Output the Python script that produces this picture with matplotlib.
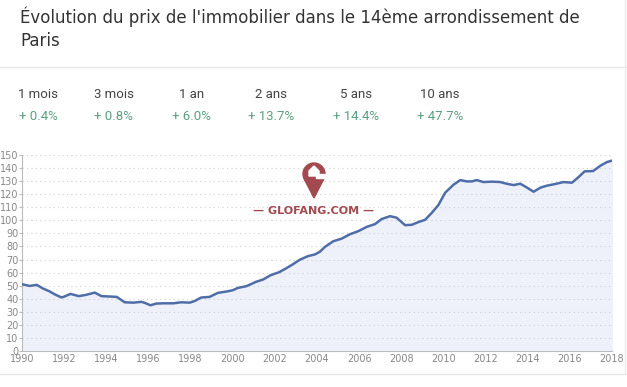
import numpy as np
import matplotlib.pyplot as plt
from matplotlib.patches import Circle, Polygon, Rectangle
from matplotlib.lines import Line2D

# price index (decimal year, index)
dates = [1990.0, 1990.36, 1990.7, 1991.0, 1991.3, 1991.55, 1991.87, 1992.0,
         1992.3, 1992.7, 1993.05, 1993.45, 1993.77, 1994.16, 1994.5, 1994.87,
         1995.27, 1995.66, 1995.8, 1996.1, 1996.37, 1996.7, 1997.17, 1997.56,
         1997.96, 1998.2, 1998.5, 1998.9, 1999.3, 1999.7, 2000.0, 2000.25,
         2000.65, 2001.1, 2001.44, 2001.8, 2002.2, 2002.55, 2002.86, 2003.18,
         2003.57, 2003.9, 2004.13, 2004.38, 2004.77, 2005.17, 2005.57, 2005.96,
         2006.36, 2006.75, 2007.07, 2007.47, 2007.78, 2008.18, 2008.5, 2008.8,
         2009.13, 2009.45, 2009.76, 2010.08, 2010.48, 2010.8, 2011.1, 2011.35,
         2011.58, 2011.9, 2012.3, 2012.7, 2013.0, 2013.33, 2013.65, 2013.97,
         2014.28, 2014.6, 2014.9, 2015.3, 2015.7, 2016.1, 2016.4, 2016.7,
         2017.1, 2017.45, 2017.76, 2018.0]
values = [51.1, 49.8, 50.6, 47.8, 45.7, 43.4, 41.0, 41.6,
          43.7, 42.0, 43.0, 44.7, 42.0, 41.7, 41.4, 37.3,
          37.0, 37.6, 37.0, 35.0, 36.3, 36.5, 36.5, 37.3,
          37.0, 38.3, 40.9, 41.4, 44.5, 45.5, 46.5, 48.3,
          49.6, 52.9, 54.7, 58.0, 60.3, 63.4, 66.4, 69.8,
          72.6, 73.9, 75.9, 79.7, 84.0, 86.0, 89.4, 91.7,
          95.0, 97.1, 101.0, 103.2, 102.0, 96.3, 96.6, 98.6,
          100.4, 105.8, 111.7, 121.1, 127.3, 130.8, 129.8, 129.8,
          130.8, 129.3, 129.6, 129.3, 128.0, 127.0, 128.0, 125.0,
          121.9, 125.0, 126.5, 127.8, 129.3, 128.8, 132.9, 137.5,
          137.7, 141.8, 144.6, 145.7]

periods = ["1 mois", "3 mois", "1 an", "2 ans", "5 ans", "10 ans"]
changes = ["+ 0.4%", "+ 0.8%", "+ 6.0%", "+ 13.7%", "+ 14.4%", "+ 47.7%"]
period_x = [38, 114, 192, 271, 356, 440]

W, H = 627, 387
fig = plt.figure(figsize=(W / 100, H / 100), dpi=100)
fig.patch.set_facecolor("white")

# title
fig.text(20 / W, 1 - 17 / H, "Évolution du prix de l'immobilier dans le 14ème arrondissement de",
         fontsize=12, color="#333333", family="DejaVu Sans", va="center", ha="left")
fig.text(20 / W, 1 - 41 / H, "Paris",
         fontsize=12, color="#333333", family="DejaVu Sans", va="center", ha="left")

# separators
fig.add_artist(Line2D([0, 1], [1 - 67 / H, 1 - 67 / H], color="#e6e6e6", lw=1))
fig.add_artist(Line2D([0, 1], [1 - 374 / H, 1 - 374 / H], color="#e6e6e6", lw=1))
fig.add_artist(Line2D([625 / W, 625 / W], [1 - 374 / H, 1], color="#ececec", lw=1))

# change summary
for px, p, c in zip(period_x, periods, changes):
    fig.text(px / W, 1 - 94 / H, p, fontsize=9.5, color="#444444", family="Roboto",
             ha="center", va="center")
    fig.text(px / W, 1 - 116 / H, c, fontsize=9.5, color="#5d9f80", family="Roboto",
             ha="center", va="center")

# chart
ax = fig.add_axes([22 / W, 1 - 351 / H, (612 - 22) / W, (351 - 155) / H])
ax.set_facecolor("none")
ax.fill_between(dates, values, 0, color="#eef1fa", zorder=1)
ax.plot(dates, values, color="#4f6ea8", lw=1.8, zorder=3, solid_joinstyle="round")
ax.set_xlim(1990, 2018)
ax.set_ylim(0, 150)
ax.set_xticks(np.arange(1990, 2019, 2))
ax.set_yticks(np.arange(0, 151, 10))
for y in range(10, 151, 10):
    ax.axhline(y, color="#cfcfcf", lw=0.8, ls=(0, (1, 3)), zorder=2)
for s in ["top", "right"]:
    ax.spines[s].set_visible(False)
ax.spines["left"].set_color("#bbbbbb")
ax.spines["bottom"].set_color("#bbbbbb")
ax.tick_params(axis="both", colors="#bbbbbb", labelcolor="#888888", labelsize=7,
               length=2, width=0.8)
ax.tick_params(axis="y", pad=0.5)
ax.tick_params(axis="x", pad=2, length=0)

# watermark
logo = fig.add_axes([(314 - 20) / W, 1 - 200 / H, 40 / W, 40 / H])
logo.set_xlim(-20, 20)
logo.set_ylim(-20, 20)
logo.axis("off")
red = "#a24a50"
logo.add_patch(Circle((0, 6), 11, color=red))
logo.add_patch(Polygon([[-9.5, 0.5], [9.5, 0.5], [0, -18]], closed=True, color=red))
logo.add_patch(Polygon([[-5, 4], [-5, 9], [0, 14], [5, 9], [5, 4]], closed=True, color="white"))
logo.add_patch(Rectangle((2, 2), 9, 4, color="white"))
fig.text(314 / W, 1 - 211 / H, "— GLOFANG.COM —", fontsize=8, color=red,
         weight="bold", family="DejaVu Sans", ha="center", va="center")

fig.savefig("out.png", dpi=100)
